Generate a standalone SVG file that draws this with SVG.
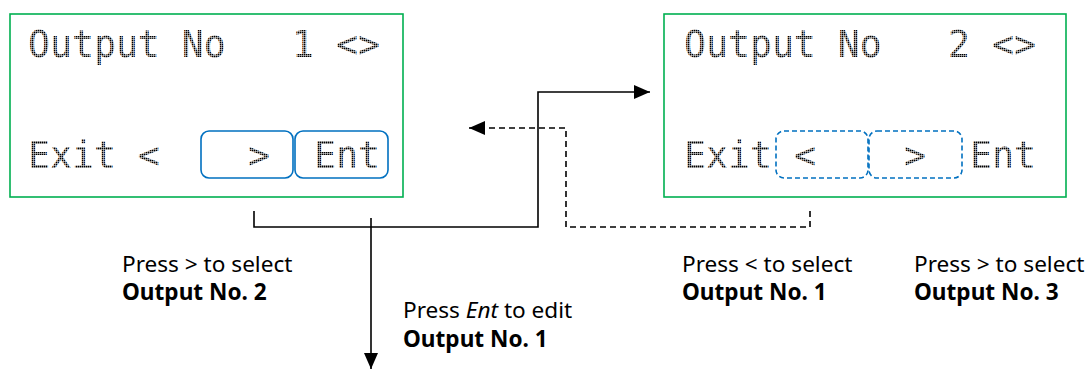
<svg xmlns="http://www.w3.org/2000/svg" width="1086" height="369" viewBox="0 0 1086 369">
<style>
.screen{fill:#fff;stroke:#00B050;stroke-width:1.6}
.key{fill:none;stroke:#0070C0;stroke-width:1.6}
.keyd{fill:none;stroke:#0070C0;stroke-width:1.6;stroke-dasharray:5 3}
.lcd{font-family:"DejaVu Sans Mono","Liberation Mono",monospace;font-size:36.5px;fill:url(#dots)}
.lbl{font-family:"Noto Sans","Open Sans","Liberation Sans",sans-serif;font-size:22.6px;fill:#000}
.b{font-weight:bold}
.ln{fill:none;stroke:#000;stroke-width:1.6}
.dash{stroke-dasharray:6 4}
</style>
<defs>
<pattern id="dots" width="2" height="2" patternUnits="userSpaceOnUse">
<rect width="1.5" height="1.5" fill="#000"/>
</pattern>
<marker id="ahb" viewBox="0 0 16 14" refX="16" refY="7" markerWidth="16" markerHeight="14" markerUnits="userSpaceOnUse" orient="auto">
<path d="M0,0 L16,7 L0,14 z" fill="#000"/>
</marker>
</defs>
<g id="screen1">
<rect class="screen" x="10" y="14" width="393" height="183"/>
<rect class="key" x="201" y="131" width="92" height="47" rx="8"/>
<rect class="key" x="295" y="131" width="93" height="47" rx="8"/>
<text class="lcd" x="28" y="57">Output No</text>
<text class="lcd" x="292" y="57">1</text>
<text class="lcd" x="336" y="57">&lt;&gt;</text>
<text class="lcd" x="28" y="168">Exit &lt;</text>
<text class="lcd" x="248" y="168">&gt;</text>
<text class="lcd" x="314" y="168">Ent</text>
</g>
<g id="screen2">
<rect class="screen" x="664" y="14" width="402" height="183"/>
<rect class="keyd" x="776" y="131" width="92" height="47" rx="8"/>
<rect class="keyd" x="869" y="131" width="93" height="47" rx="8"/>
<text class="lcd" x="684" y="57">Output No</text>
<text class="lcd" x="948" y="57">2</text>
<text class="lcd" x="992" y="57">&lt;&gt;</text>
<text class="lcd" x="684" y="168">Exit</text>
<text class="lcd" x="794" y="168">&lt;</text>
<text class="lcd" x="904" y="168">&gt;</text>
<text class="lcd" x="970" y="168">Ent</text>
</g>
<g id="connectors">
<path class="ln" d="M254,211 V227 H538 V92 H650" marker-end="url(#ahb)"/>
<path class="ln" d="M371,218 V369" marker-end="url(#ahb)"/>
<path class="ln dash" d="M810,211 V227 H566 V128 H469" marker-end="url(#ahb)"/>
</g>
<g id="labels">
<text class="lbl" x="122" y="272">Press &gt; to select</text>
<text class="lbl b" x="122" y="300">Output No. 2</text>
<text class="lbl" x="403" y="318">Press <tspan font-style="italic">Ent</tspan> to edit</text>
<text class="lbl b" x="403" y="347">Output No. 1</text>
<text class="lbl" x="682" y="272">Press &lt; to select</text>
<text class="lbl b" x="682" y="300">Output No. 1</text>
<text class="lbl" x="914" y="272">Press &gt; to select</text>
<text class="lbl b" x="914" y="300">Output No. 3</text>
</g>
</svg>
